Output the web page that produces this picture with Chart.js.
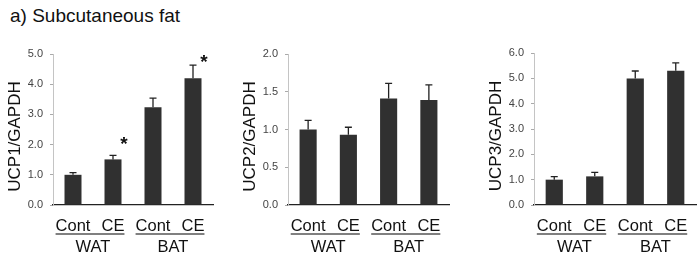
<!DOCTYPE html>
<html><head><meta charset="utf-8">
<script src="https://cdn.jsdelivr.net/npm/chart.js@4.4.1/dist/chart.umd.min.js"></script>
<style>
html,body{margin:0;padding:0;background:#fff;width:700px;height:256px;overflow:hidden;position:relative;}
#heading{position:absolute;left:10px;top:6px;font:19px/19px "Liberation Sans",Arial,Helvetica,sans-serif;color:#111;white-space:nowrap;}
canvas{position:absolute;top:0;}
</style></head><body>
<div id="heading">a) Subcutaneous fat</div>
<canvas id="c1" width="230" height="256" style="left:0px;width:230px;height:256px"></canvas>
<canvas id="c2" width="230" height="256" style="left:235px;width:230px;height:256px"></canvas>
<canvas id="c3" width="230" height="256" style="left:470px;width:230px;height:256px"></canvas>
<script>
// ---- data ----
const categories = ['Cont', 'CE', 'Cont', 'CE'];
const groupLabels = ['WAT', 'BAT'];

const ucp1Values = [1.00, 1.51, 3.24, 4.20];
const ucp1Errors = [0.07, 0.13, 0.30, 0.43];
const ucp1Marks  = ['', '*', '', '*'];
const ucp1Ticks  = [0, 1, 2, 3, 4, 5];

const ucp2Values = [1.00, 0.93, 1.41, 1.39];
const ucp2Errors = [0.12, 0.10, 0.20, 0.20];
const ucp2Marks  = ['', '', '', ''];
const ucp2Ticks  = [0, 0.5, 1.0, 1.5, 2.0];

const ucp3Values = [1.00, 1.13, 4.99, 5.30];
const ucp3Errors = [0.12, 0.16, 0.30, 0.31];
const ucp3Marks  = ['', '', '', ''];
const ucp3Ticks  = [0, 1, 2, 3, 4, 5, 6];

// ---- drawing ----
const FONT = '"Liberation Sans", Arial, Helvetica, sans-serif';
Chart.defaults.font.family = FONT;
Chart.defaults.devicePixelRatio = 1;

function decoPlugin(cfg) {
  return {
    id: 'deco',
    afterDatasetsDraw(chart) {
      const ctx = chart.ctx, xs = chart.scales.x, ys = chart.scales.y, area = chart.chartArea;
      const meta = chart.getDatasetMeta(0);
      ctx.save();
      // error bars
      ctx.strokeStyle = '#222';
      ctx.lineWidth = 1.3;
      cfg.values.forEach((v, i) => {
        const x = meta.data[i].x;
        const yTop = ys.getPixelForValue(v);
        const yErr = ys.getPixelForValue(v + cfg.errors[i]);
        ctx.beginPath();
        ctx.moveTo(x, yTop); ctx.lineTo(x, yErr);
        ctx.moveTo(x - 3.5, yErr); ctx.lineTo(x + 3.5, yErr);
        ctx.stroke();
      });
      // significance marks
      ctx.fillStyle = '#111';
      ctx.font = 'bold 19px ' + FONT;
      ctx.textAlign = 'center';
      ctx.textBaseline = 'middle';
      cfg.marks.forEach((m, i) => {
        if (!m) return;
        const x = meta.data[i].x + 11;
        const y = ys.getPixelForValue(cfg.values[i]) - 19;
        ctx.fillText(m, x, y + 4);
      });
      // category + group labels
      ctx.textBaseline = 'alphabetic';
      ctx.font = '16.5px ' + FONT;
      const catBase = area.bottom + 26;
      groupLabels.forEach((g, gi) => {
        const i0 = gi * 2, i1 = gi * 2 + 1;
        const x0 = xs.getPixelForValue(i0), x1 = xs.getPixelForValue(i1);
        ctx.fillStyle = '#111';
        ctx.fillText(categories[i0], x0, catBase);
        ctx.fillText(categories[i1], x1, catBase);
        const w0 = ctx.measureText(categories[i0]).width;
        const w1 = ctx.measureText(categories[i1]).width;
        ctx.fillStyle = '#808080';
        const ux0 = x0 - w0 / 2, ux1 = x1 + w1 / 2;
        ctx.fillRect(ux0, catBase + 2, ux1 - ux0, 2);
        ctx.fillStyle = '#111';
        ctx.fillText(g, (x0 + x1) / 2, area.bottom + 47);
      });
      // y title
      ctx.save();
      ctx.translate(area.left - 33, (area.top + area.bottom) / 2 + 7);
      ctx.rotate(-Math.PI / 2);
      ctx.font = '17px ' + FONT;
      ctx.fillStyle = '#111';
      ctx.textAlign = 'center';
      ctx.fillText(cfg.title, 0, 0);
      ctx.restore();
      ctx.restore();
    }
  };
}

function makePanel(id, cfg) {
  new Chart(document.getElementById(id), {
    type: 'bar',
    data: {
      labels: categories,
      datasets: [{
        data: cfg.values,
        backgroundColor: '#303030',
        borderWidth: 0,
        barPercentage: 0.425,
        categoryPercentage: 1.0
      }]
    },
    options: {
      responsive: false,
      maintainAspectRatio: false,
      animation: false,
      events: [],
      layout: { padding: { left: 0, top: cfg.top, right: cfg.right, bottom: 256 - cfg.bottom } },
      plugins: { legend: { display: false }, tooltip: { enabled: false }, title: { display: false } },
      scales: {
        x: {
          grid: { display: false },
          border: { display: true, color: '#222', width: 1.3 },
          ticks: { display: false },
          afterFit: s => { s.height = 0; }
        },
        y: {
          min: cfg.ticks[0],
          max: cfg.ticks[cfg.ticks.length - 1],
          afterBuildTicks: s => { s.ticks = cfg.ticks.map(v => ({ value: v })); },
          grid: { drawOnChartArea: false, drawTicks: true, tickLength: 3, color: '#aaa', lineWidth: 1 },
          border: { display: true, color: '#c4c4c4', width: 1 },
          ticks: {
            padding: 7,
            color: '#444',
            font: { size: 11, family: FONT },
            callback: v => Number(v).toFixed(1)
          },
          afterFit: s => { s.width = cfg.axisWidth; }
        }
      }
    },
    plugins: [decoPlugin(cfg)]
  });
}

makePanel('c1', { values: ucp1Values, errors: ucp1Errors, marks: ucp1Marks, ticks: ucp1Ticks,
  title: 'UCP1/GAPDH', axisWidth: 53, right: 17, top: 54, bottom: 205 });
makePanel('c2', { values: ucp2Values, errors: ucp2Errors, marks: ucp2Marks, ticks: ucp2Ticks,
  title: 'UCP2/GAPDH', axisWidth: 53, right: 16, top: 54, bottom: 205 });
makePanel('c3', { values: ucp3Values, errors: ucp3Errors, marks: ucp3Marks, ticks: ucp3Ticks,
  title: 'UCP3/GAPDH', axisWidth: 64, right: 4, top: 53, bottom: 205 });
</script>
</body></html>
